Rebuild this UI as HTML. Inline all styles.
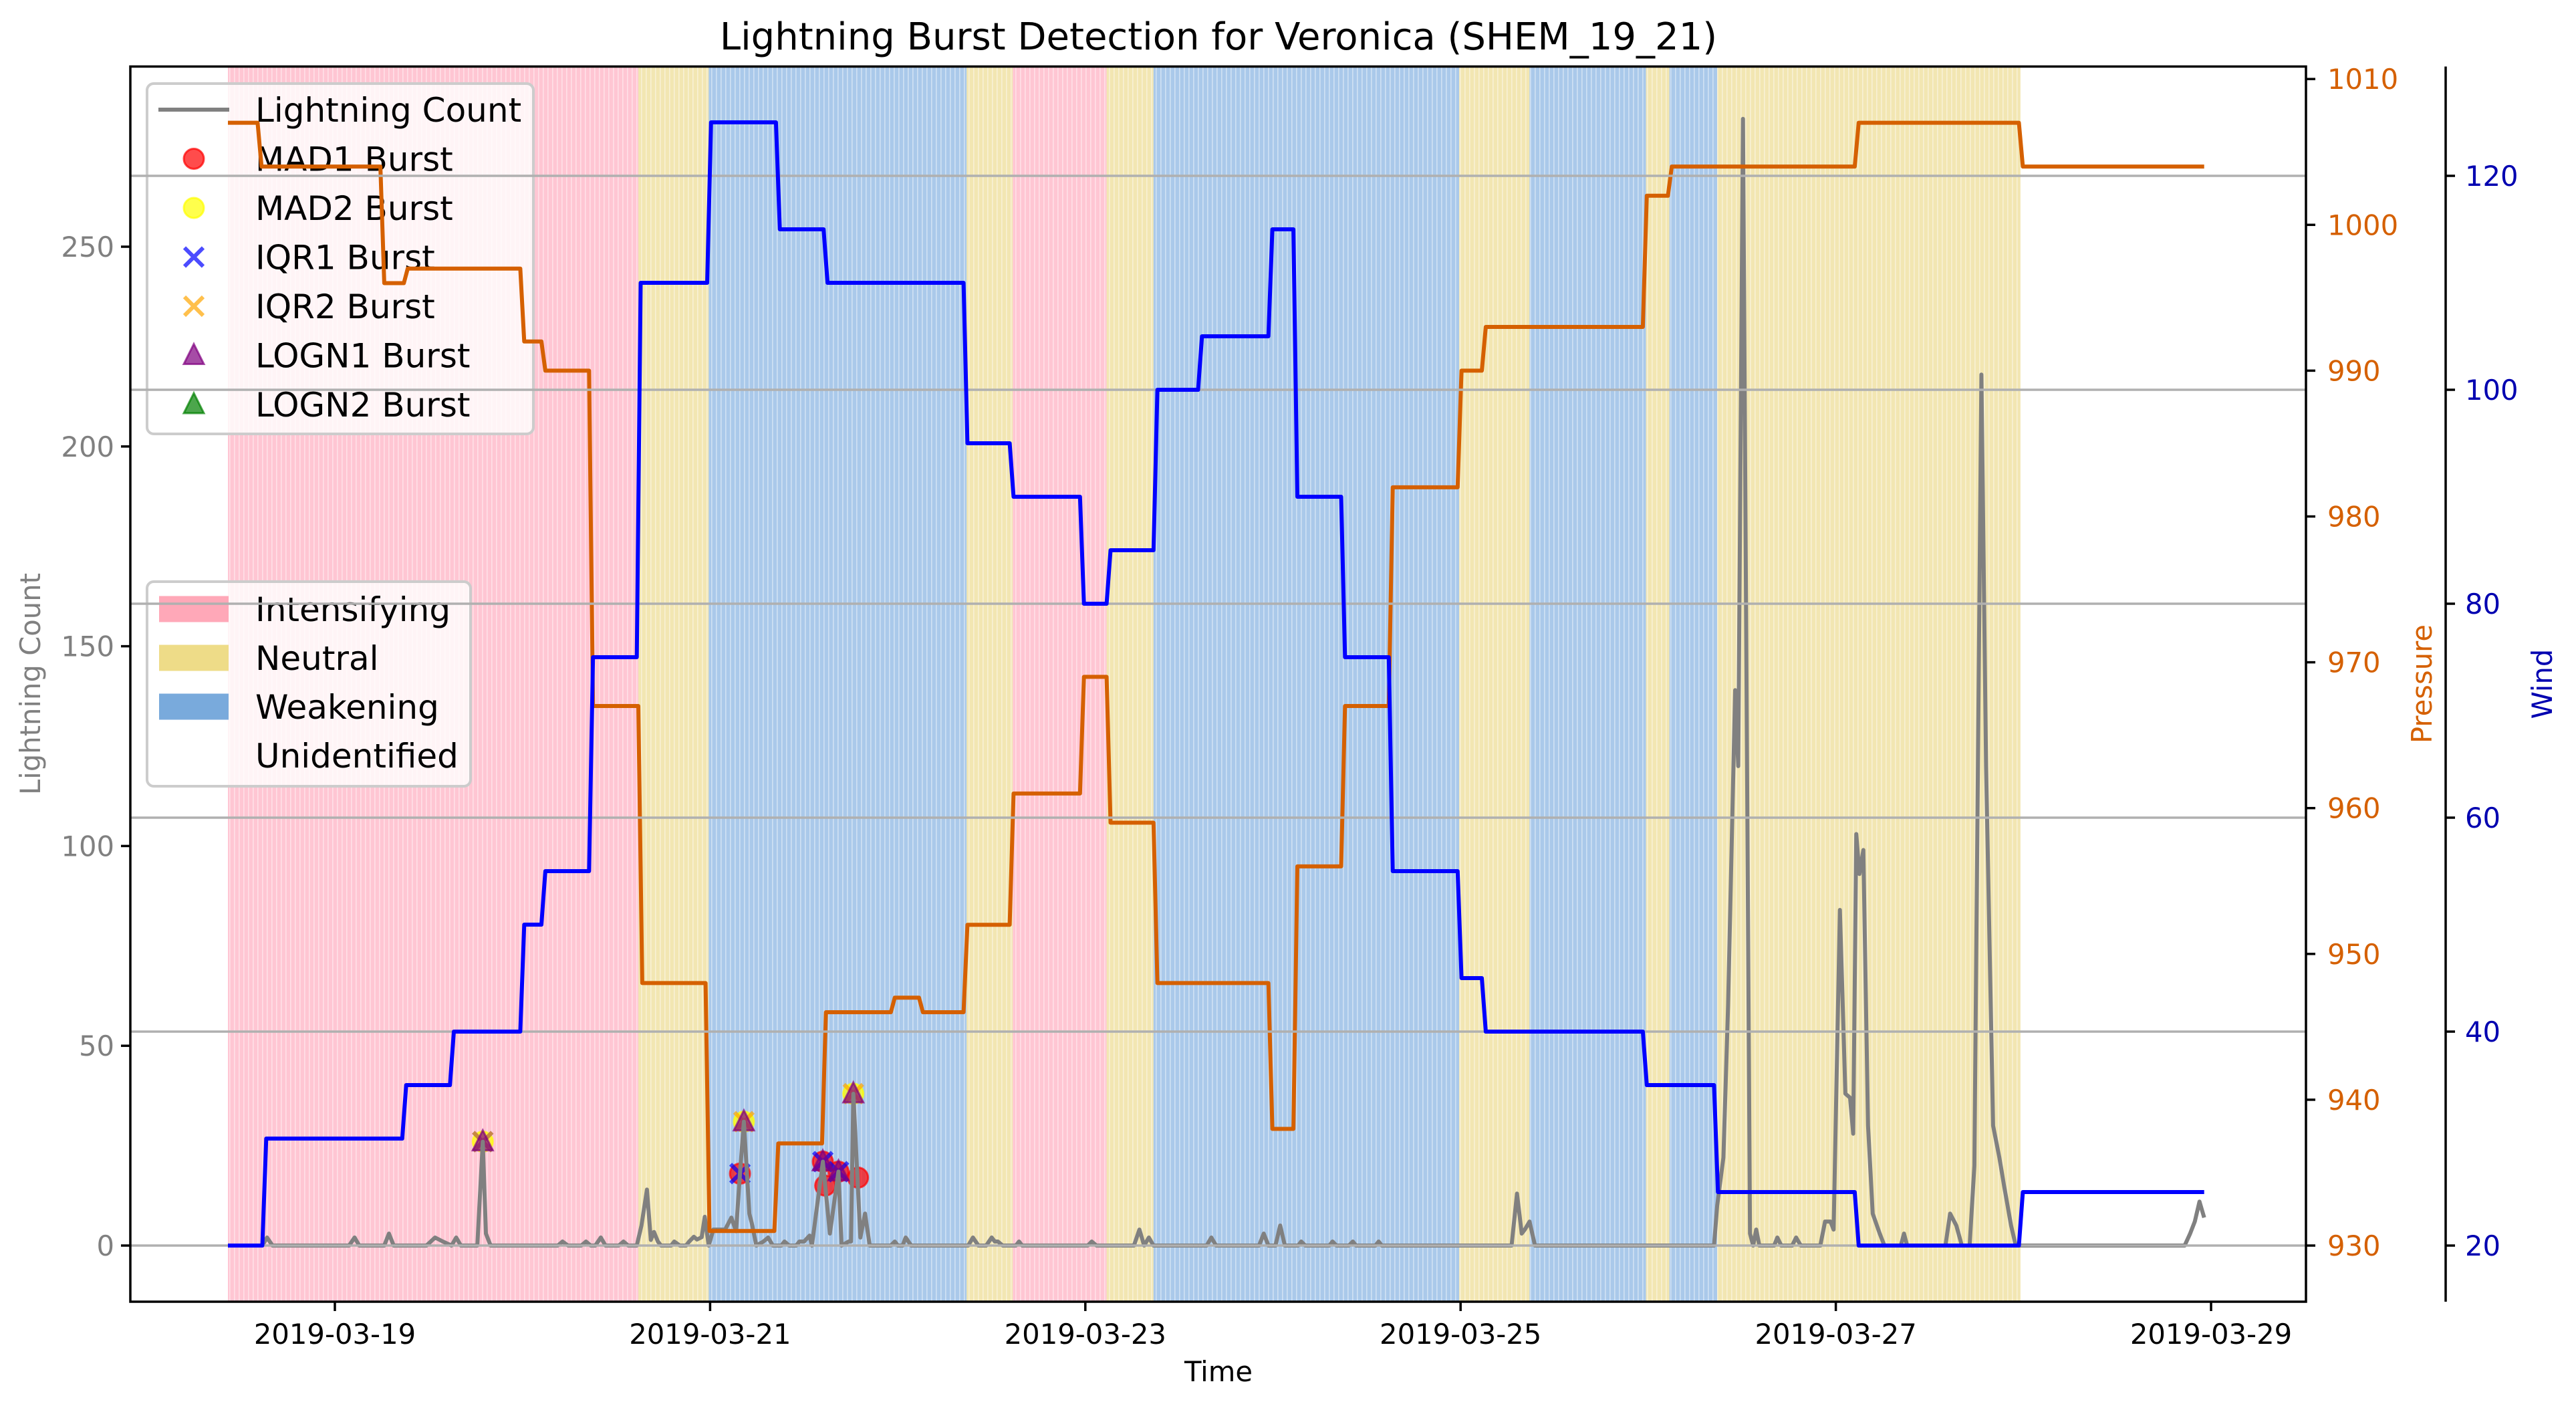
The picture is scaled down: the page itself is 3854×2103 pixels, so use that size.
<!DOCTYPE html>
<html><head><meta charset="utf-8"><style>
html,body{margin:0;padding:0;background:#fff;}
svg{display:block;font-family:"DejaVu Sans","Liberation Sans",sans-serif;}
</style></head><body>
<svg id="chart" width="3854" height="2103" viewBox="0 0 3854 2103" xmlns="http://www.w3.org/2000/svg">
<defs><pattern id="stripes" patternUnits="userSpaceOnUse" width="7" height="10"><rect x="0" y="0" width="1.6" height="10" fill="#fff" fill-opacity="0.45"/></pattern></defs>
<rect x="0" y="0" width="3854" height="2103" fill="#fff"/>
<g id="bg"></g><g id="markers"></g><g id="lightning"></g><g id="legends"></g><g id="pressure"></g><g id="grid"></g><g id="wind"></g><g id="axes"></g>
</svg>
<script>
// ---- data ----
const spanStartHours = [0, 52.5, 61.5, 94.5, 100.4, 112.4, 118.4, 157.5, 166.5, 181.4, 184.4, 190.5];
const spanEndHours   = [52.5, 61.5, 94.5, 100.4, 112.4, 118.4, 157.5, 166.5, 181.4, 184.4, 190.5, 229.3];
const spanCategories = ["Intensifying","Neutral","Weakening","Neutral","Intensifying","Neutral","Weakening","Neutral","Weakening","Neutral","Weakening","Neutral"];

const pressureBreakHours = [3.8,19.5,22.5,37.4,40.1,46.2,52.5,61.1,69.9,76.0,84.8,88.4,94.1,100.0,109.0,112.4,118.4,133.1,136.3,142.4,148.5,157.3,160.4,181.0,184.2,208.1,229.1];
const pressureValues = [1007,1004,996,997,992,990,967,948,931,937,946,947,946,952,961,969,959,948,938,956,967,982,990,993,1002,1004,1007,1004];

const windBreakHours = [4.4,22.3,28.4,37.4,40.1,46.2,52.3,61.3,70.1,76.2,94.1,100.0,109.0,112.4,118.4,124.1,133.1,136.3,142.4,148.5,157.3,160.4,181.0,190.1,208.1,229.1];
const windValues = [20,30,35,40,50,55,75,110,125,115,110,95,90,80,85,100,105,115,90,75,55,45,40,35,25,20,25];
const seriesEndHour = 252.8;

const lightHours = [0,4.4,5.0,5.7,15.5,16.2,16.8,20.0,20.6,21.2,25.4,26.5,27.5,28.6,29.2,29.8,31.9,32.6,33.0,33.6,42.2,42.8,43.5,45.2,45.8,46.4,47.0,47.7,48.3,50.0,50.6,51.2,52.3,52.9,53.6,54.1,54.5,55.0,55.4,56.7,57.1,57.8,58.6,59.0,59.6,60.0,60.6,61.0,61.5,62.1,63.6,64.4,65.0,65.5,66.0,66.7,67.0,67.6,68.5,69.1,69.7,70.8,71.2,71.8,72.7,73.1,73.7,74.4,74.7,76.1,77.0,78.1,78.5,79.4,79.7,80.0,80.9,81.5,82.1,84.8,85.3,85.7,86.3,86.7,87.4,94.7,95.3,96.0,97.0,97.7,98.1,98.5,99.1,100.8,101.2,101.6,110.0,110.5,111.1,115.9,116.6,117.2,117.8,118.4,125.2,125.8,126.4,131.9,132.5,133.1,134.0,134.6,135.2,136.9,137.3,137.8,140.9,141.3,141.8,143.4,143.9,144.3,146.8,147.2,147.6,164.2,164.9,165.5,165.9,166.5,167.2,190.1,190.5,191.3,191.9,192.8,193.2,193.8,194.7,195.1,195.5,195.9,197.8,198.2,198.7,200.1,200.6,201.2,203.7,204.3,205.0,205.4,206.2,206.9,207.5,207.9,208.3,208.7,209.2,209.8,210.4,211.3,211.9,214.0,214.4,214.8,219.7,220.3,221.1,221.8,222.8,223.4,224.3,224.9,225.8,226.6,227.2,228.1,228.7,250.3,251.0,251.6,252.2,252.8];
const lightCounts = [0,0,2,0,0,2,0,0,3,0,0,2,1,0,2,0,0,26,3,0,0,1,0,0,1,0,0,2,0,0,1,0,0,5,14,1.4,3.4,1,0,0,1,0,0,1,2.2,1.5,2.1,7.2,0,4,4,7,3.6,18,31,8,5.7,0,1,2,0,0,1,0,0,1,1,2.5,0,21,3,18.5,0,1,1,38,2,8,0,0,1,0,0,2,0,0,2,0,0,2,1,1,0,0,1,0,0,1,0,0,4,0,2,0,0,2,0,0,3,0,0,5,0,0,1,0,0,1,0,0,1,0,0,1,0,0,13,3,4,6,0,0,10,22,60,139,120,282,3,0,4,0,0,2,0,0,2,0,0,6,6,4,84,38,37,28,103,93,99,30,8,3,0,0,3,0,0,8,5,0,0,20,218,120,30,22,15,5,0,0,3,6,11,7];

const mad1Hours = [65.5,76.1,76.4,78.1,80.6];   const mad1Counts = [18,21,15,18.5,17];
const mad2Hours = [32.6,66.0,80.0];             const mad2Counts = [26,31,38];
const iqr1Hours = [32.6,65.5,76.1,78.1];        const iqr1Counts = [26,18,21,18.5];
const iqr2Hours = [32.6,66.0,80.0];             const iqr2Counts = [26,31,38];
const logn1Hours = [32.6,66.0,76.1,78.1,80.0];  const logn1Counts = [26,31,21,18.5,38];
const logn2Hours = [];                          const logn2Counts = [];

const xTickLabels = ["2019-03-19","2019-03-21","2019-03-23","2019-03-25","2019-03-27","2019-03-29"];
const xTickDays = [0,2,4,6,8,10];
const leftTicks = [0,50,100,150,200,250];
const pressureTicks = [930,940,950,960,970,980,990,1000,1010];
const windTicks = [20,40,60,80,100,120];

// ---- scales ----
const PL=195, PR=3450, PT=99.5, PB=1947;
const dayX = d => 501 + d*280.7;
const X = h => dayX(-0.57 + h/24);
const YL = v => 1863 - v*5.976;
const YP = p => 1863 - (p-930)*21.81;
const YW = w => 1863 - (w-20)*16;
const NS="http://www.w3.org/2000/svg";
function mk(tag, attrs, parent){const e=document.createElementNS(NS,tag);for(const k in attrs)e.setAttribute(k,attrs[k]);parent.appendChild(e);return e;}
const $=id=>document.getElementById(id);
const catColor={Intensifying:"#ffc6d3",Neutral:"#f2e6b2",Weakening:"#aac9ea"};

// backgrounds
spanStartHours.forEach((s,i)=>{
  const r=mk('rect',{x:X(s),y:PT,width:X(spanEndHours[i])-X(s),height:PB-PT,fill:catColor[spanCategories[i]]},$('bg'));
  
  
  const st=mk('rect',{x:X(s),y:PT,width:X(spanEndHours[i])-X(s),height:PB-PT,fill:'url(#stripes)'},$('bg'));
  
  
});

// markers
function circles(hs,vs,fill,stroke,name){hs.forEach((h,i)=>{const c=mk('circle',{cx:X(h),cy:YL(vs[i]),r:15,fill:fill,stroke:stroke,'stroke-width':3,'fill-opacity':0.7,'stroke-opacity':0.7},$('markers'));
  
  });}
function crosses(hs,vs,col,name){hs.forEach((h,i)=>{const x=X(h),y=YL(vs[i]),s=14;const p=mk('path',{d:`M${x-s} ${y-s}L${x+s} ${y+s}M${x-s} ${y+s}L${x+s} ${y-s}`,stroke:col,'stroke-width':6,'stroke-opacity':0.7,fill:'none'},$('markers'));
  
  });}
function tris(hs,vs,fill,stroke,name){hs.forEach((h,i)=>{const x=X(h),y=YL(vs[i]);const p=mk('path',{d:`M${x} ${y-17}L${x+15} ${y+13}L${x-15} ${y+13}Z`,fill:fill,stroke:stroke,'stroke-width':3,'fill-opacity':0.7,'stroke-opacity':0.7},$('markers'));
  
  });}
circles(mad1Hours,mad1Counts,'#ff0000','#ff0000','mad1-burst-marker');
circles(mad2Hours,mad2Counts,'#ffff00','#ffff00','mad2-burst-marker');
crosses(iqr1Hours,iqr1Counts,'#0000ff','iqr1-burst-marker');
crosses(iqr2Hours,iqr2Counts,'#ffa500','iqr2-burst-marker');
tris(logn1Hours,logn1Counts,'#800080','#800080','logn1-burst-marker');
tris(logn2Hours,logn2Counts,'#008000','#008000','logn2-burst-marker');

// lightning line
const lp=mk('polyline',{points:lightHours.map((h,i)=>X(h).toFixed(1)+','+YL(lightCounts[i]).toFixed(1)).join(' '),fill:'none',stroke:'#808080','stroke-width':6,'stroke-linejoin':'round'},$('lightning'));



// step series
function stepPts(breaks,vals,Y){const pts=[[X(0),Y(vals[0])]];breaks.forEach((b,i)=>{pts.push([X(b),Y(vals[i])]);pts.push([X(b+0.5),Y(vals[i+1])]);});pts.push([X(seriesEndHour),Y(vals[vals.length-1])]);return pts.map(p=>p[0].toFixed(1)+','+p[1].toFixed(1)).join(' ');}

// legends
const lg=$('legends');
function legendBox(x,y,w,h,name){const r=mk('rect',{x:x,y:y,width:w,height:h,rx:10,fill:'#fff','fill-opacity':0.8,stroke:'#cccccc','stroke-width':4},lg);
  
  }
function ltext(x,y,s,name){const t=mk('text',{x:x,y:y,'font-size':50,fill:'#000'},lg);t.textContent=s;
  
  }
legendBox(220,125,578,524,'burst-legend');
const rows=[164,237.5,311,384.5,458,531.5,605];
const hx=290;
let e=mk('line',{x1:237,y1:rows[0],x2:343,y2:rows[0],stroke:'#808080','stroke-width':6},lg);

e=mk('circle',{cx:hx,cy:rows[1],r:15,fill:'#ff0000','fill-opacity':0.7,stroke:'#ff0000','stroke-opacity':0.7,'stroke-width':3},lg);

e=mk('circle',{cx:hx,cy:rows[2],r:15,fill:'#ffff00','fill-opacity':0.7,stroke:'#ffff00','stroke-opacity':0.7,'stroke-width':3},lg);

e=mk('path',{d:`M${hx-14} ${rows[3]-14}L${hx+14} ${rows[3]+14}M${hx-14} ${rows[3]+14}L${hx+14} ${rows[3]-14}`,stroke:'#0000ff','stroke-opacity':0.7,'stroke-width':6},lg);

e=mk('path',{d:`M${hx-14} ${rows[4]-14}L${hx+14} ${rows[4]+14}M${hx-14} ${rows[4]+14}L${hx+14} ${rows[4]-14}`,stroke:'#ffa500','stroke-opacity':0.7,'stroke-width':6},lg);

e=mk('path',{d:`M${hx} ${rows[5]-17}L${hx+15} ${rows[5]+13}L${hx-15} ${rows[5]+13}Z`,fill:'#800080','fill-opacity':0.7,stroke:'#800080','stroke-opacity':0.7,'stroke-width':3},lg);

e=mk('path',{d:`M${hx} ${rows[6]-17}L${hx+15} ${rows[6]+13}L${hx-15} ${rows[6]+13}Z`,fill:'#008000','fill-opacity':0.7,stroke:'#008000','stroke-opacity':0.7,'stroke-width':3},lg);

["Lightning Count","MAD1 Burst","MAD2 Burst","IQR1 Burst","IQR2 Burst","LOGN1 Burst","LOGN2 Burst"].forEach((s,i)=>ltext(382,rows[i]+18,s,'legend-label-'+i));

legendBox(220,870,484,306,'category-legend');
const rows2=[911,984,1057,1130];
[["#ffa8b8","Intensifying"],["#eedc88","Neutral"],["#79aadc","Weakening"],[null,"Unidentified"]].forEach((c,i)=>{
  if(c[0]){const r=mk('rect',{x:238,y:rows2[i]-19.5,width:104,height:39,fill:c[0]},lg);
    
    }
  ltext(382,rows2[i]+18,c[1],'legend-label-'+c[1].toLowerCase());
});

// pressure
e=mk('polyline',{points:stepPts(pressureBreakHours,pressureValues,YP),fill:'none',stroke:'#d56000','stroke-width':6,'stroke-linejoin':'round'},$('pressure'));


// grid (wind axis)
windTicks.forEach(w=>{const g=mk('line',{x1:PL,x2:PR,y1:YW(w),y2:YW(w),stroke:'#b0b0b0','stroke-width':3.5},$('grid'));
  
  });

// wind
e=mk('polyline',{points:stepPts(windBreakHours,windValues,YW),fill:'none',stroke:'#0000ff','stroke-width':6,'stroke-linejoin':'round'},$('wind'));


// axes
const ax=$('axes');
e=mk('rect',{x:PL,y:PT,width:PR-PL,height:PB-PT,fill:'none',stroke:'#000','stroke-width':3.5},ax);

e=mk('line',{x1:3659,x2:3659,y1:PT,y2:PB,stroke:'#000','stroke-width':3.5},ax);

function txt(x,y,s,opts,name){const t=mk('text',Object.assign({x:x,y:y,'font-size':41.7},opts),ax);t.textContent=s;
  
  return t;}
xTickDays.forEach((d,i)=>{const x=dayX(d);mk('line',{x1:x,x2:x,y1:PB,y2:PB+14,stroke:'#000','stroke-width':3.5},ax);
  txt(x,2010,xTickLabels[i],{'text-anchor':'middle',fill:'#000'},'x-tick-label');});
leftTicks.forEach(v=>{const y=YL(v);mk('line',{x1:PL-14,x2:PL,y1:y,y2:y,stroke:'#000','stroke-width':3.5},ax);
  txt(PL-24,y+15,String(v),{'text-anchor':'end',fill:'#808080'},'left-tick-label');});
pressureTicks.forEach(v=>{const y=YP(v);mk('line',{x1:PR,x2:PR+14,y1:y,y2:y,stroke:'#000','stroke-width':3.5},ax);
  txt(3482,y+15,String(v),{fill:'#d56000'},'pressure-tick-label');});
windTicks.forEach(v=>{const y=YW(v);mk('line',{x1:3659,x2:3673,y1:y,y2:y,stroke:'#000','stroke-width':3.5},ax);
  txt(3688,y+15,String(v),{fill:'#0000b0'},'wind-tick-label');});
txt(1823,2066,"Time",{'text-anchor':'middle',fill:'#000'},'x-axis-title');
txt(0,0,"Lightning Count",{'text-anchor':'middle',fill:'#808080',transform:'translate(60,1023) rotate(-90)'},'left-axis-title');
txt(0,0,"Pressure",{'text-anchor':'middle',fill:'#d56000',transform:'translate(3638,1023) rotate(-90)'},'pressure-axis-title');
txt(0,0,"Wind",{'text-anchor':'middle',fill:'#0000b0',transform:'translate(3818,1023) rotate(-90)'},'wind-axis-title');
txt(1823,74,"Lightning Burst Detection for Veronica (SHEM_19_21)",{'text-anchor':'middle',fill:'#000','font-size':56},'chart-title');
</script>
</body></html>
